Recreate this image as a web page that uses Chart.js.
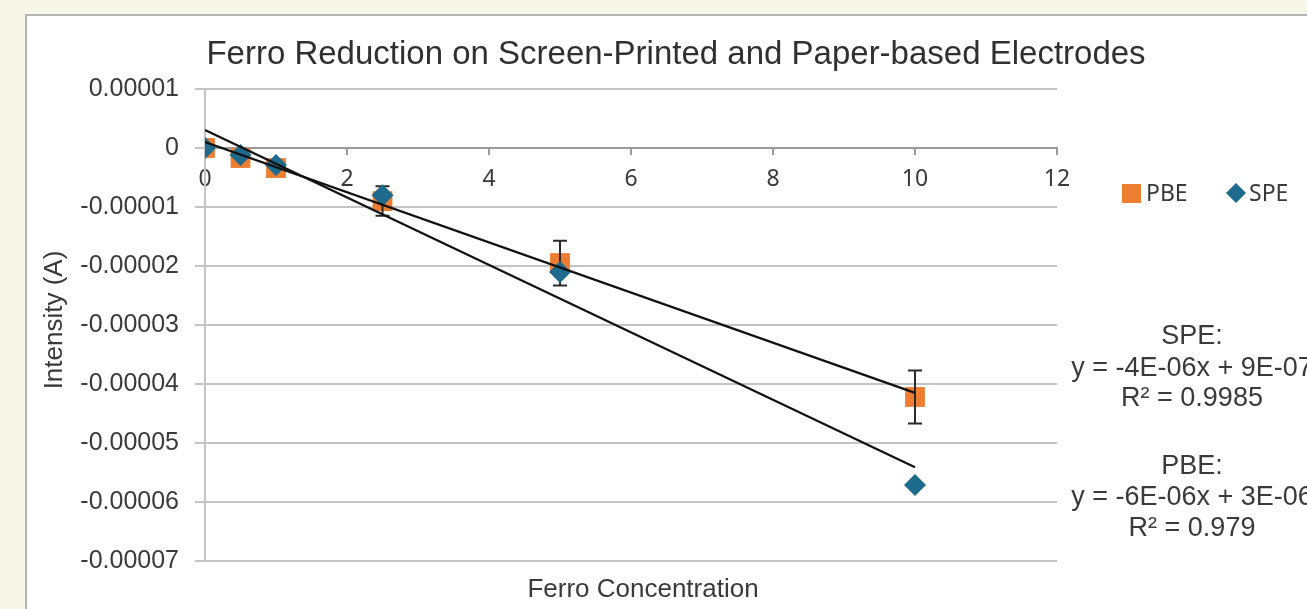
<!DOCTYPE html>
<html>
<head>
<meta charset="utf-8">
<script src="https://cdn.jsdelivr.net/npm/chart.js@4.4.1/dist/chart.umd.min.js"></script>
<style>
  html, body { margin: 0; padding: 0; background: #f8f5e9; overflow: hidden; }
  #panel { position: absolute; left: 25px; top: 14px; width: 1320px; height: 640px; background: #ffffff; border: 2px solid #b4b4b4; box-sizing: border-box; }
  #wrap { position: absolute; left: 0; top: 0; width: 1307px; height: 609px; }
</style>
</head>
<body>
<div id="panel"></div>
<div id="wrap"><canvas id="c" width="1307" height="609"></canvas></div>
<script>
// ---- data ----
const concentrations = [0, 0.5, 1, 2.5, 5, 10];
const pbeValues = [0, -1.7e-6, -3.4e-6, -9.0e-6, -1.95e-5, -4.22e-5];
const pbeErrors = [0, 0, 0, 2.5e-6, 3.8e-6, 4.5e-6];
const speValues = [0, -1.2e-6, -2.9e-6, -8.0e-6, -2.1e-5, -5.71e-5];
const trendX = [0, 10];
const pbeTrendY = [1.0e-6, -4.15e-5];
const speTrendY = [3.05e-6, -5.41e-5];
const xTicks = [0, 2, 4, 6, 8, 10, 12];
const yTicks = [1e-5, 0, -1e-5, -2e-5, -3e-5, -4e-5, -5e-5, -6e-5, -7e-5];
const seriesNames = ['PBE', 'SPE'];
const annotationLines = [
  ['SPE:', 'y = -4E-06x + 9E-07', 'R\u00B2 = 0.9985'],
  ['PBE:', 'y = -6E-06x + 3E-06', 'R\u00B2 = 0.979']
];
const titleText = 'Ferro Reduction on Screen-Printed and Paper-based Electrodes';
const xTitle = 'Ferro Concentration';
const yTitle = 'Intensity (A)';

const ORANGE = '#ed7d31';
const BLUE = '#1d6a8c';
const TEXT = '#3a3a3a';
const SANS = '"Liberation Sans", Arial, sans-serif';

const toPts = (xs, ys) => xs.map((x, i) => ({ x: x, y: ys[i] }));

const errorBarPlugin = {
  id: 'errorBars',
  afterDatasetDraw(chart, args) {
    if (args.index !== 3) return;
    const { ctx, scales: { x, y } } = chart;
    ctx.save();
    ctx.strokeStyle = '#2a2a2a';
    ctx.lineWidth = 2;
    concentrations.forEach((c, i) => {
      const e = pbeErrors[i];
      if (!e) return;
      const px = x.getPixelForValue(c);
      const top = y.getPixelForValue(pbeValues[i] + e);
      const bot = y.getPixelForValue(pbeValues[i] - e);
      ctx.beginPath();
      ctx.moveTo(px, top); ctx.lineTo(px, bot);
      ctx.moveTo(px - 7, top); ctx.lineTo(px + 7, top);
      ctx.moveTo(px - 7, bot); ctx.lineTo(px + 7, bot);
      ctx.stroke();
    });
    ctx.restore();
  }
};

const textPlugin = {
  id: 'texts',
  afterDraw(chart) {
    const ctx = chart.ctx;
    ctx.save();
    // title
    ctx.fillStyle = '#303030';
    ctx.font = '33px ' + SANS;
    ctx.textAlign = 'center';
    ctx.textBaseline = 'middle';
    ctx.fillText(titleText, 676, 55);
    // axis titles
    ctx.fillStyle = TEXT;
    ctx.font = '26px ' + SANS;
    ctx.fillText(xTitle, 643, 590);
    ctx.save();
    ctx.translate(55, 320);
    ctx.rotate(-Math.PI / 2);
    ctx.fillText(yTitle, 0, 0);
    ctx.restore();
    // legend
    ctx.font = '23px "Noto Sans", sans-serif';
    ctx.textAlign = 'left';
    ctx.fillStyle = ORANGE;
    ctx.fillRect(1122, 184, 19, 19);
    ctx.fillStyle = TEXT;
    ctx.fillText(seriesNames[0], 1146, 194);
    ctx.fillStyle = BLUE;
    ctx.beginPath();
    ctx.moveTo(1236, 183); ctx.lineTo(1246, 193); ctx.lineTo(1236, 203); ctx.lineTo(1226, 193);
    ctx.closePath(); ctx.fill();
    ctx.fillStyle = TEXT;
    ctx.fillText(seriesNames[1], 1249, 194);
    // trendline annotations
    ctx.font = '27px ' + SANS;
    ctx.textAlign = 'center';
    const ys = [[337, 369, 399], [467, 498, 529]];
    annotationLines.forEach((lines, k) => {
      lines.forEach((t, j) => ctx.fillText(t, 1192, ys[k][j]));
    });
    ctx.restore();
  }
};

new Chart(document.getElementById('c'), {
  type: 'scatter',
  data: {
    datasets: [
      { type: 'line', label: 'SPE trend', data: toPts(trendX, speTrendY), borderColor: '#111111', borderWidth: 2.2, pointRadius: 0, fill: false, order: 0 },
      { type: 'line', label: 'PBE trend', data: toPts(trendX, pbeTrendY), borderColor: '#111111', borderWidth: 2.2, pointRadius: 0, fill: false, order: 1 },
      { label: seriesNames[1], data: toPts(concentrations, speValues), pointStyle: 'rectRot', pointRadius: 11, pointHoverRadius: 11, backgroundColor: BLUE, borderColor: BLUE, borderWidth: 0, order: 2 },
      { label: seriesNames[0], data: toPts(concentrations, pbeValues), pointStyle: 'rect', pointRadius: 14, pointHoverRadius: 14, backgroundColor: ORANGE, borderColor: ORANGE, borderWidth: 0, order: 3 }
    ]
  },
  options: {
    responsive: false,
    animation: false,
    events: [],
    layout: { padding: { left: 0, top: 89, right: 250, bottom: 48 } },
    plugins: { legend: { display: false }, title: { display: false }, tooltip: { enabled: false } },
    scales: {
      x: {
        type: 'linear',
        min: 0, max: 12,
        position: { y: 0 },
        afterBuildTicks: s => { s.ticks = xTicks.map(v => ({ value: v })); },
        grid: { drawOnChartArea: false, drawTicks: true, tickLength: 6, color: '#9a9a9a', lineWidth: 2 },
        border: { color: '#9a9a9a', width: 2 },
        ticks: { color: TEXT, font: { family: '"Noto Sans", sans-serif', size: 23 }, padding: 12, maxRotation: 0, autoSkip: false }
      },
      y: {
        type: 'linear',
        min: -7e-5, max: 1e-5,
        afterBuildTicks: s => { s.ticks = yTicks.map(v => ({ value: v })); },
        afterFit: s => { s.width = 205; },
        grid: { color: '#c4c4c4', lineWidth: 2, tickLength: 10 },
        border: { color: '#c4c4c4', width: 2 },
        ticks: {
          color: TEXT, font: { family: SANS, size: 25 }, padding: 16, autoSkip: false,
          callback: v => { const r = Math.round(v * 1e5); return r === 0 ? '0' : (r / 1e5).toFixed(5); }
        }
      }
    }
  },
  plugins: [errorBarPlugin, textPlugin]
});
</script>
</body>
</html>
